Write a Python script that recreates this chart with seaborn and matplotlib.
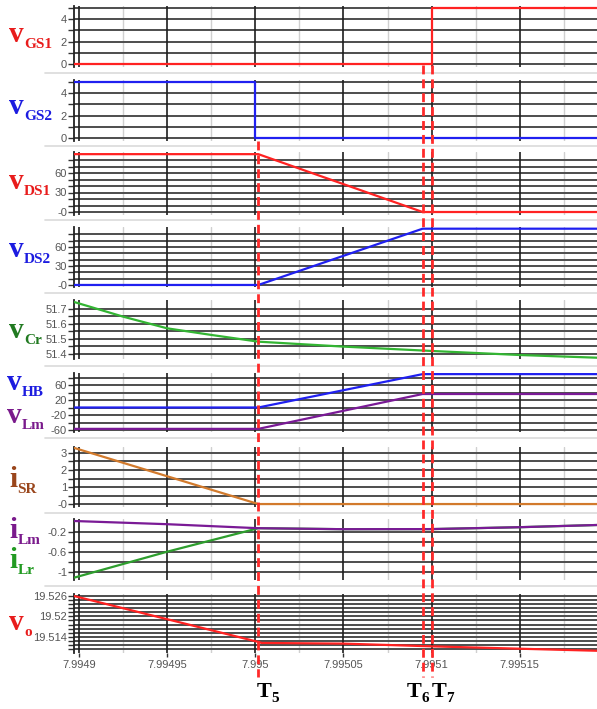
import numpy as np
import pandas as pd
import matplotlib
matplotlib.use("Agg")
import matplotlib.pyplot as plt
import matplotlib.transforms as mtransforms
from matplotlib.lines import Line2D
from matplotlib.ticker import FixedLocator, FixedFormatter
import seaborn as sns

sns.set_style("white")
plt.rcParams['font.family'] = ['Liberation Sans', 'DejaVu Sans']

# ---- switching instants (s) ----
t_start = 7.99489716
t_gs2_off = 7.995
t5 = 7.9950017
t6 = 7.9950949
t7 = 7.9951
t_end = 7.9951938
t_marks = [t5, t6, t7]
t_mark_names = ["5", "6", "7"]

# ---- waveforms (breakpoints) ----
vgs1_t = [t_start, t7, t7, t_end]
vgs1_v = [0, 0, 5, 5]
vgs2_t = [t_start, t_gs2_off, t_gs2_off, t_end]
vgs2_v = [5, 5, 0, 0]
vds_t = [t_start, t5, t6, t_end]
vds1_v = [89, 89, 0, 0]
vds2_v = [0, 0, 89, 89]
vcr_t = [7.99489716, 7.994925, 7.99495, 7.994975, 7.9950017, 7.99505, 7.9951, 7.99515, 7.9951938]
vcr_v = [51.747, 51.649, 51.571, 51.527, 51.482, 51.449, 51.42, 51.393, 51.375]
vhb_t = [t_start, t5, t6, t_end]
vhb_v = [0, 0, 89, 89]
vlm_v = [-57, -57, 36, 36]
isr_t = [t_start, t5, t_end]
isr_v = [3.3, 0, 0]
il_t = [t_start, 7.99495, t5, 7.99505, t7, 7.99515, t_end]
ilm_v = [0.014, -0.05, -0.13, -0.15, -0.148, -0.11, -0.066]
ilr_v = [-1.12, -0.60, -0.13, -0.15, -0.148, -0.11, -0.066]
vo_t = [t_start, t5, 7.9950035, 7.99505, t7, 7.99515, t_end]
vo_v = [19.526, 19.5125, 19.5122, 19.512, 19.5112, 19.5105, 19.5099]

x_ticks = [7.9949, 7.99495, 7.995, 7.99505, 7.9951, 7.99515]
x_ticklabels = ["7.9949", "7.99495", "7.995", "7.99505", "7.9951", "7.99515"]
x_minor = [7.994925, 7.994975, 7.995025, 7.995075, 7.995125, 7.995175]

RED = "#ff2222"
BLUE = "#2020f0"
GREEN = "#33b533"
PURPLE = "#7a1a96"
ORANGE = "#d27a2c"

W, H = 597, 709
fig = plt.figure(figsize=(W / 100, H / 100), dpi=100)

# panel: (top px, bottom px, ylim, label ticks, label texts, grid values)
panels = [
    (6.1, 66.8, (-0.25, 5.15), [0, 2, 4], ["0", "2", "4"], [0, 1, 2, 3, 4, 5]),
    (80.1, 140.8, (-0.25, 5.15), [0, 2, 4], ["0", "2", "4"], [0, 1, 2, 3, 4, 5]),
    (152.2, 214.6, (-4, 92), [0, 30, 60], ["-0", "30", "60"], list(range(0, 81, 10))),
    (226.8, 287.5, (-4, 92), [0, 30, 60], ["-0", "30", "60"], list(range(0, 81, 10))),
    (300.0, 359.2, (51.365, 51.76), [51.4, 51.5, 51.6, 51.7], ["51.4", "51.5", "51.6", "51.7"],
     [51.4, 51.45, 51.5, 51.55, 51.6, 51.65, 51.7]),
    (373.0, 431.5, (-64, 92), [-60, -20, 20, 60], ["-60", "-20", "20", "60"], list(range(-60, 81, 20))),
    (447.0, 506.6, (-0.15, 3.35), [0, 1, 2, 3], ["-0", "1", "2", "3"], [0, 0.5, 1, 1.5, 2, 2.5, 3]),
    (519.2, 579.7, (-1.16, 0.05), [-1, -0.6, -0.2], ["-1", "-0.6", "-0.2"], [-1, -0.8, -0.6, -0.4, -0.2]),
    (594.3, 652.8, (19.5093, 19.5265), [19.514, 19.52, 19.526], ["19.514", "19.52", "19.526"],
     [round(19.514 + 0.0012 * k, 4) for k in range(-3, 11)]),
]

left_px = 74
axes = []
for i, (top, bot, ylim, ticks, labels, grid_vals) in enumerate(panels):
    ax = fig.add_axes([left_px / W, 1 - bot / H, (W - left_px) / W, (bot - top) / H])
    ax.set_xlim(t_start, t_end)
    ax.set_ylim(*ylim)
    for s in ["top", "right", "bottom"]:
        ax.spines[s].set_visible(False)
    ax.spines["left"].set_color("#222222")
    ax.spines["left"].set_linewidth(1.3)
    # horizontal grid
    for g in grid_vals:
        if ylim[0] <= g <= ylim[1]:
            ax.axhline(g, color="#4d4d4d", lw=1.4, zorder=0.5)
    # vertical grid: dark lines at labelled times, light lines in between
    for xv in x_ticks:
        ax.axvline(xv, color="#1e1e1e", lw=1.2, zorder=0.6)
    for xv in x_minor:
        ax.axvline(xv, color="#d0d0d0", lw=1.0, zorder=0.4)
    ax.yaxis.set_major_locator(FixedLocator(ticks))
    ax.yaxis.set_major_formatter(FixedFormatter(labels))
    ax.yaxis.set_minor_locator(FixedLocator([g for g in grid_vals
                                             if min(abs(g - tk) for tk in ticks) > 1e-9]))
    ax.tick_params(axis="y", which="both", left=True, length=4, width=1.0, color="#333333",
                   labelsize=8, labelcolor="#555555", pad=1)
    ax.set_xticks(x_ticks)
    if i == len(panels) - 1:
        ax.set_xticklabels(x_ticklabels)
        ax.tick_params(axis="x", bottom=True, length=3, width=1.0, color="#333333",
                       labelsize=8, labelcolor="#555555", pad=2)
    else:
        ax.tick_params(axis="x", bottom=False, labelbottom=False)
    axes.append(ax)

def trace(ax, t, v, color, lw=1.6):
    df = pd.DataFrame({"t": t, "v": v})
    sns.lineplot(data=df, x="t", y="v", ax=ax, color=color, lw=lw,
                 estimator=None, sort=False, zorder=3)
    ax.set_xlabel("")
    ax.set_ylabel("")

trace(axes[0], vgs1_t, vgs1_v, RED)
trace(axes[1], vgs2_t, vgs2_v, BLUE)
trace(axes[2], vds_t, vds1_v, RED)
trace(axes[3], vds_t, vds2_v, BLUE)
trace(axes[4], vcr_t, vcr_v, GREEN)
trace(axes[5], vhb_t, vhb_v, BLUE)
trace(axes[5], vhb_t, vlm_v, PURPLE)
trace(axes[6], isr_t, isr_v, ORANGE)
trace(axes[7], il_t, ilr_v, "#2e9e2e")
trace(axes[7], il_t, ilm_v, PURPLE)
trace(axes[8], vo_t, vo_v, RED)

for ax in axes:
    ax.set_xlim(t_start, t_end)

# panel separators
for y in [73, 146, 220, 293, 366, 438, 513, 586]:
    fig.add_artist(Line2D([45 / W, 1.0], [1 - y / H, 1 - y / H], color="#dadada", lw=1.2))

# dashed event markers
blend = mtransforms.blended_transform_factory(axes[-1].transData, fig.transFigure)
for tm, y_top in zip(t_marks, [141, 65, 65]):
    fig.add_artist(Line2D([tm, tm], [1 - y_top / H, 1 - 677 / H], transform=blend,
                          color="#ff2a2a", lw=2.0, ls=(0, (3.2, 1.8)), zorder=10))

# signal names
serif = ["Liberation Serif", "DejaVu Serif"]
def name(x, y, main, sub, color, size=21, subsize=11):
    t = fig.text(x / W, 1 - y / H, main, fontsize=size, fontweight="bold", family=serif,
                 color=color, va="baseline", ha="left")
    axes[0].annotate(sub, xy=(1, 0), xycoords=t, xytext=(0.3, 0), textcoords="offset points",
                     fontsize=subsize, fontweight="bold", family=serif, color=color,
                     va="baseline", ha="left", annotation_clip=False)

name(9, 42, "v", "GS1", "#e81c1c")
name(9, 114, "v", "GS2", "#1c1ce0")
name(9, 189, "v", "DS1", "#e81c1c")
name(9, 257, "v", "DS2", "#1c1ce0")
name(9, 338, "v", "Cr", "#217a21")
name(7, 390, "v", "HB", "#1c1ce0")
name(7, 423, "v", "Lm", "#7a1a8c")
name(9, 487, "i", "SR", "#9a461c")
name(9, 538, "i", "Lm", "#7a1a8c")
name(9, 568, "i", "Lr", "#229a22")
name(9, 630, "v", "o", "#e81c1c")

# event labels
def tlabel(x_data, dx_pts, txt_sub):
    t = fig.text(x_data, 1 - 697 / H, "T", transform=mtransforms.offset_copy(
        blend, fig=fig, x=dx_pts, y=0, units="points"), fontsize=16, fontweight="bold",
        family=serif, color="black", va="baseline", ha="left")
    axes[0].annotate(txt_sub, xy=(1, 0), xycoords=t, xytext=(0, 0), textcoords="offset points",
                     fontsize=11, fontweight="bold", family=serif, color="black",
                     va="baseline", ha="left", annotation_clip=False)

tlabel(t5, -1.5, t_mark_names[0])
tlabel(t6, -11.5, t_mark_names[1])
tlabel(t7, 0.0, t_mark_names[2])

fig.savefig("out.png", dpi=100)
